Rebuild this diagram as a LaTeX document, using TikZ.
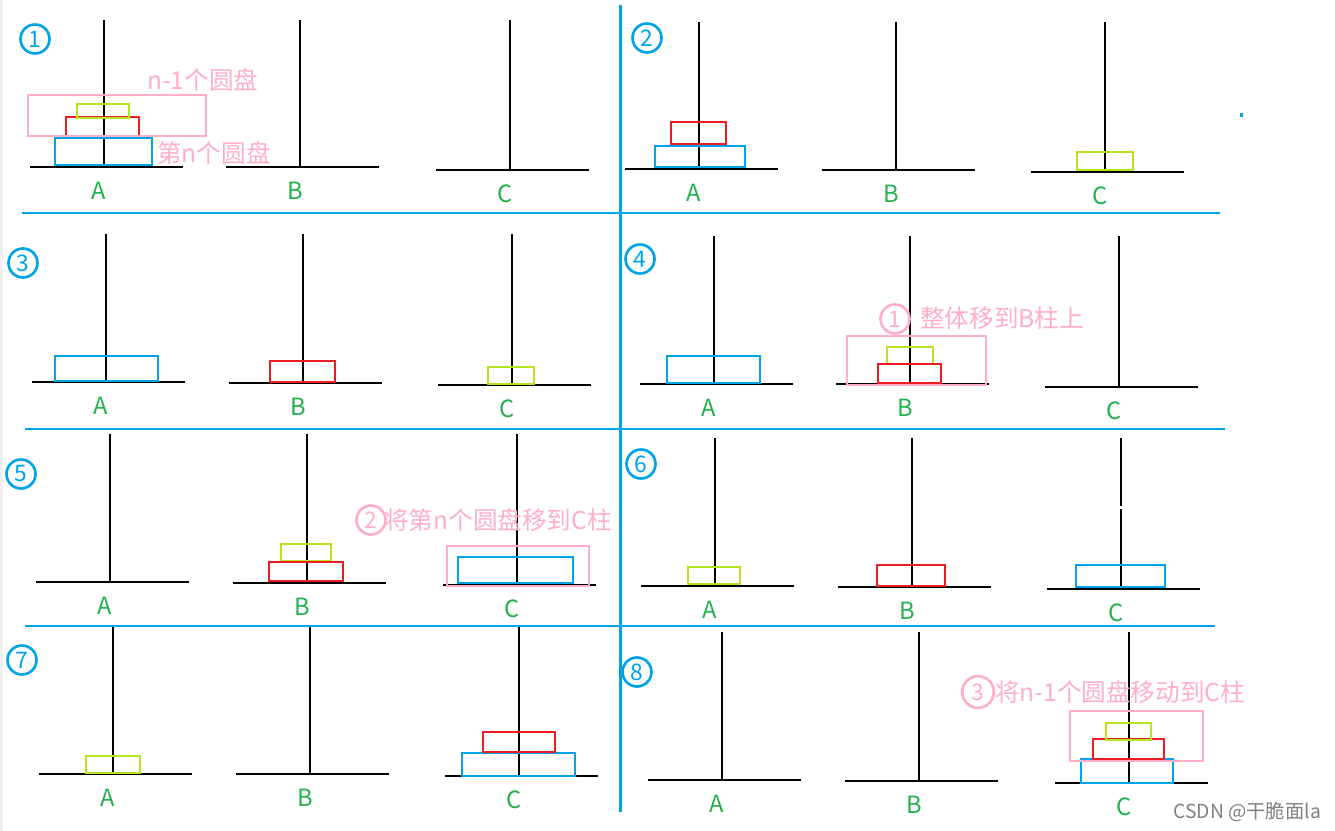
\documentclass[tikz,border=0pt]{standalone}
\usepackage{fontspec}
\setmainfont{Noto Sans CJK SC}
\definecolor{paintblue}{RGB}{0,162,232}
\definecolor{paintred}{RGB}{237,28,36}
\definecolor{paintlime}{RGB}{181,230,29}
\definecolor{paintgreen}{RGB}{34,177,76}
\definecolor{paintpink}{RGB}{255,174,201}
\begin{document}
\begin{tikzpicture}[x=0.02cm,y=-0.02cm,
  every node/.style={font=\fontsize{13.5pt}{15pt}\selectfont},
  pole/.style={line width=1.6pt},
  bluedisk/.style={draw=paintblue,line width=1.6pt},
  reddisk/.style={draw=paintred,line width=1.6pt},
  limedisk/.style={draw=paintlime,line width=1.6pt},
  movebox/.style={draw=paintpink,line width=1.5pt},
  divider/.style={paintblue,line width=1.7pt},
  stepno/.style={circle,draw=paintblue,text=paintblue,line width=1.5pt,minimum size=16.5pt,inner sep=0pt,font=\fontsize{13pt}{14pt}\selectfont},
  noteno/.style={stepno,draw=paintpink,text=paintpink},
  note/.style={text=paintpink,anchor=west,inner sep=0pt,font=\fontsize{14pt}{16pt}\selectfont},
  peglabel/.style={text=paintgreen}]
  \useasboundingbox (0,0) rectangle (1335,831);
  \fill[black!6] (0,0) rectangle (3,831);
  % dividers
  \draw[divider] (620,5) -- (620,812);
  \draw[divider] (22,213) -- (1220,213);
  \draw[divider] (25,429) -- (1225,429);
  \draw[divider] (25,626) -- (1215,626);
  \fill[paintblue] (1240,113) rectangle (1243,117);
  % pegs
  \foreach \n/\px/\pt/\pb/\lab in {1/104/20/167/A,1/300/20/167/B,1/510/20/170/C,
      2/699/22/169/A,2/896/22/170/B,2/1105/22/172/C,
      3/106/234/382/A,3/303/234/383/B,3/512/234/385/C,
      4/714/236/384/A,4/910/236/384/B,4/1119/236/387/C,
      5/110/434/582/A,5/307/434/583/B,5/517/434/585/C,
      6/715/438/586/A,6/912/438/587/B,6/1121/438/589/C,
      7/113/627/774/A,7/310/627/774/B,7/519/627/776/C,
      8/722/632/780/A,8/919/632/781/B,8/1129/632/783/C}{
    \draw[pole] (\px,\pt) -- (\px,\pb);
    \draw[pole] (\px-74,\pb) -- (\px+79,\pb);
    \node[peglabel] (\lab\n) at (\px-5,\pb+24) {\lab};
  }
  \draw[white,line width=2.5pt] (1121,506) -- (1121,509);
  % step numbers
  \foreach \n/\x/\y in {1/35/39,2/647/38,3/23/263,4/640/259,5/21/474,6/641/464,7/22/660,8/637/672}
    \node[stepno] (s\n) at (\x,\y) {\n};
  % 1
  \draw[bluedisk] (55,138) rectangle (152,165);
  \draw[reddisk] (66,117) rectangle (139,136);
  \draw[limedisk] (77,104) rectangle (129,118);
  \draw[movebox] (28,95) rectangle (206,136);
  \node[note] (rest1) at (147,80) {n-1个圆盘};
  \node[note] (last1) at (157,153) {第n个圆盘};
  % 2
  \draw[bluedisk] (655,146) rectangle (745,167);
  \draw[reddisk] (671,122) rectangle (726,144);
  \draw[limedisk] (1077,152) rectangle (1133,170);
  % 3
  \draw[bluedisk] (55,356) rectangle (158,381);
  \draw[reddisk] (270,361) rectangle (335,382);
  \draw[limedisk] (488,367) rectangle (534,384);
  % 4
  \draw[bluedisk] (667,356) rectangle (760,383);
  \draw[limedisk] (887,347) rectangle (933,364);
  \draw[reddisk] (878,364) rectangle (941,383);
  \draw[movebox] (847,336) rectangle (986,385);
  \node[noteno] (n1) at (895,319) {1};
  \node[note] (move1) at (920,318) {整体移到B柱上};
  % 5
  \draw[limedisk] (281,544) rectangle (331,561);
  \draw[reddisk] (269,562) rectangle (343,581);
  \draw[movebox] (447,546) rectangle (589,586);
  \draw[bluedisk] (458,557) rectangle (573,583);
  \node[noteno] (n2) at (371,520) {2};
  \node[note] (move2) at (384,520) {将第n个圆盘移到C柱};
  % 6
  \draw[limedisk] (688,567) rectangle (740,584);
  \draw[reddisk] (877,565) rectangle (945,586);
  \draw[bluedisk] (1076,565) rectangle (1165,587);
  % 7
  \draw[limedisk] (86,756) rectangle (140,773);
  \draw[bluedisk] (462,753) rectangle (575,776);
  \draw[reddisk] (483,732) rectangle (555,752);
  % 8
  \draw[bluedisk] (1081,759) rectangle (1173,783);
  \draw[movebox] (1070,711) rectangle (1203,761);
  \draw[reddisk] (1093,739) rectangle (1164,759);
  \draw[limedisk] (1106,723) rectangle (1151,740);
  \node[noteno,minimum size=18pt] (n3) at (978,692) {3};
  \node[note] (move3) at (995,692) {将n-1个圆盘移动到C柱};
  \node[anchor=west,inner sep=0pt,text=black!50,font=\fontsize{11pt}{12pt}\selectfont] (mark) at (1173,812) {CSDN @干脆面la};
\end{tikzpicture}
\end{document}
